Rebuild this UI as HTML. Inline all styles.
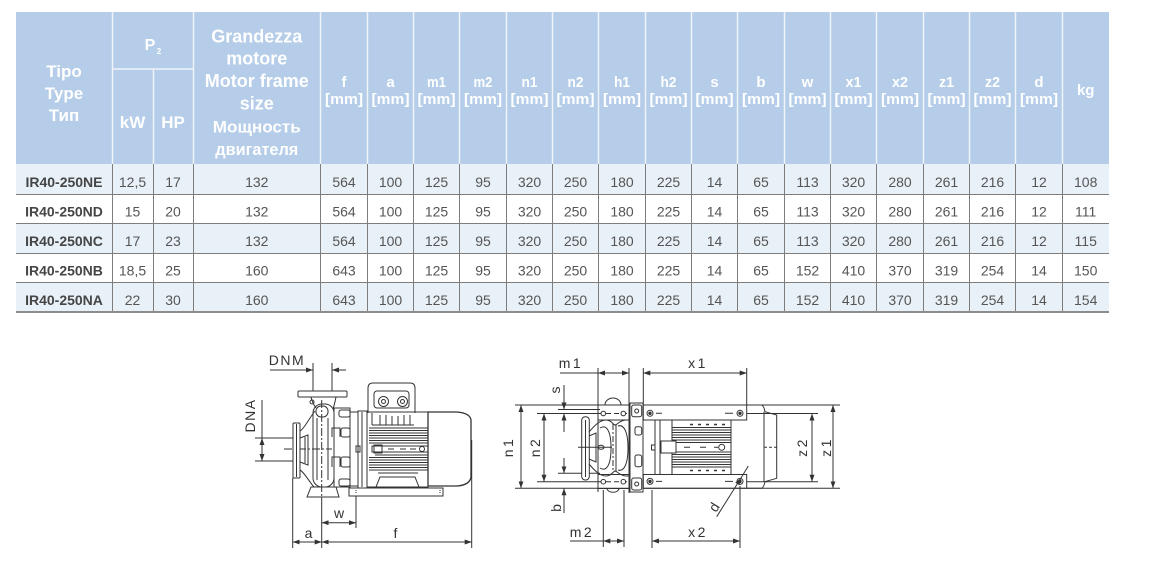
<!DOCTYPE html>
<html><head><meta charset="utf-8"><style>
html,body{margin:0;padding:0;background:#fff;width:1154px;height:567px;overflow:hidden}
svg{display:block}
.h{font-family:"Liberation Sans",sans-serif;font-weight:bold;fill:#fff;text-anchor:middle}
.c{font-family:"Liberation Sans",sans-serif;font-size:14px;fill:#555;text-anchor:middle}
.n{font-family:"Liberation Sans",sans-serif;font-size:14px;font-weight:bold;fill:#454545;text-anchor:middle}
.d{font-family:"Liberation Sans",sans-serif;font-size:14px;fill:#333;text-anchor:middle;stroke:none}
</style></head><body>
<svg width="1154" height="567" viewBox="0 0 1154 567" xmlns="http://www.w3.org/2000/svg">
<defs>
<marker id="ah" viewBox="0 0 7 5" refX="7" refY="2.5" markerWidth="7" markerHeight="5" markerUnits="userSpaceOnUse" orient="auto-start-reverse"><path d="M0,0 L7,2.5 L0,5 z" fill="#333"/></marker>
</defs>
<rect width="1154" height="567" fill="#fff"/>

<!-- TABLE BACKGROUNDS -->
<rect x="16" y="12" width="1093" height="152" fill="#b5cde8"/>
<rect x="16" y="164" width="1093" height="30.5" fill="#e9f1f8"/>
<rect x="16" y="223.5" width="1093" height="30" fill="#e9f1f8"/>
<rect x="16" y="282.5" width="1093" height="29.5" fill="#e9f1f8"/>

<!-- header separators -->
<g stroke="#eef4fa" stroke-width="1.5">
<line x1="112.5" y1="12" x2="112.5" y2="164"/><line x1="193.5" y1="12" x2="193.5" y2="164"/>
<line x1="320.5" y1="12" x2="320.5" y2="164"/><line x1="367.5" y1="12" x2="367.5" y2="164"/>
<line x1="413.5" y1="12" x2="413.5" y2="164"/><line x1="459.5" y1="12" x2="459.5" y2="164"/>
<line x1="506.5" y1="12" x2="506.5" y2="164"/><line x1="552.5" y1="12" x2="552.5" y2="164"/>
<line x1="598.5" y1="12" x2="598.5" y2="164"/><line x1="645.5" y1="12" x2="645.5" y2="164"/>
<line x1="691.5" y1="12" x2="691.5" y2="164"/><line x1="737.5" y1="12" x2="737.5" y2="164"/>
<line x1="784.5" y1="12" x2="784.5" y2="164"/><line x1="830.5" y1="12" x2="830.5" y2="164"/>
<line x1="876.5" y1="12" x2="876.5" y2="164"/><line x1="923.5" y1="12" x2="923.5" y2="164"/>
<line x1="969.5" y1="12" x2="969.5" y2="164"/><line x1="1015.5" y1="12" x2="1015.5" y2="164"/>
<line x1="1062.5" y1="12" x2="1062.5" y2="164"/>
<line x1="153.5" y1="69" x2="153.5" y2="164"/>
<line x1="112" y1="69" x2="193" y2="69"/>
</g>

<!-- body grid -->
<g stroke="#7d7d7d" stroke-width="1">
<line x1="112.5" y1="164" x2="112.5" y2="312"/><line x1="153.5" y1="164" x2="153.5" y2="312"/>
<line x1="193.5" y1="164" x2="193.5" y2="312"/>
<line x1="320.5" y1="164" x2="320.5" y2="312"/><line x1="367.5" y1="164" x2="367.5" y2="312"/>
<line x1="413.5" y1="164" x2="413.5" y2="312"/><line x1="459.5" y1="164" x2="459.5" y2="312"/>
<line x1="506.5" y1="164" x2="506.5" y2="312"/><line x1="552.5" y1="164" x2="552.5" y2="312"/>
<line x1="598.5" y1="164" x2="598.5" y2="312"/><line x1="645.5" y1="164" x2="645.5" y2="312"/>
<line x1="691.5" y1="164" x2="691.5" y2="312"/><line x1="737.5" y1="164" x2="737.5" y2="312"/>
<line x1="784.5" y1="164" x2="784.5" y2="312"/><line x1="830.5" y1="164" x2="830.5" y2="312"/>
<line x1="876.5" y1="164" x2="876.5" y2="312"/><line x1="923.5" y1="164" x2="923.5" y2="312"/>
<line x1="969.5" y1="164" x2="969.5" y2="312"/><line x1="1015.5" y1="164" x2="1015.5" y2="312"/>
<line x1="1062.5" y1="164" x2="1062.5" y2="312"/>
<line x1="16" y1="194.5" x2="1109" y2="194.5"/>
<line x1="16" y1="223.5" x2="1109" y2="223.5"/>
<line x1="16" y1="253.5" x2="1109" y2="253.5"/>
<line x1="16" y1="282.5" x2="1109" y2="282.5"/>
</g>
<line x1="16" y1="312" x2="1109" y2="312" stroke="#8c8c8c" stroke-width="2"/>

<!-- HEADER TEXT -->
<text class="h" x="64" y="77" font-size="17">Tipo</text>
<text class="h" x="64" y="99" font-size="17">Type</text>
<text class="h" x="64" y="121" font-size="17">Тип</text>
<text class="h" x="150" y="50" font-size="16">P</text>
<text class="h" x="159" y="54" font-size="8">2</text>
<text class="h" x="132.5" y="128" font-size="17">kW</text>
<text class="h" x="173" y="128" font-size="17">HP</text>
<text class="h" x="256.8" y="42.5" font-size="18">Grandezza</text>
<text class="h" x="256.8" y="64.5" font-size="18">motore</text>
<text class="h" x="256.8" y="87" font-size="18" textLength="104" lengthAdjust="spacingAndGlyphs">Motor frame</text>
<text class="h" x="256.8" y="109.5" font-size="18">size</text>
<text class="h" x="256.8" y="132.5" font-size="17" textLength="88" lengthAdjust="spacingAndGlyphs">Мощность</text>
<text class="h" x="256.8" y="155" font-size="17" textLength="83" lengthAdjust="spacingAndGlyphs">двигателя</text>

<g class="h" font-size="15">
<text class="h" x="344" y="87">f</text>
<text class="h" x="390.5" y="87">a</text>
<text class="h" x="436.5" y="87" textLength="19" lengthAdjust="spacingAndGlyphs">m1</text>
<text class="h" x="483" y="87" textLength="19" lengthAdjust="spacingAndGlyphs">m2</text>
<text class="h" x="529.5" y="87" textLength="16" lengthAdjust="spacingAndGlyphs">n1</text>
<text class="h" x="575.5" y="87" textLength="16" lengthAdjust="spacingAndGlyphs">n2</text>
<text class="h" x="622" y="87" textLength="16" lengthAdjust="spacingAndGlyphs">h1</text>
<text class="h" x="668.5" y="87" textLength="16" lengthAdjust="spacingAndGlyphs">h2</text>
<text class="h" x="714.5" y="87">s</text>
<text class="h" x="761" y="87">b</text>
<text class="h" x="807.5" y="87">w</text>
<text class="h" x="853.5" y="87" textLength="16" lengthAdjust="spacingAndGlyphs">x1</text>
<text class="h" x="900" y="87" textLength="16" lengthAdjust="spacingAndGlyphs">x2</text>
<text class="h" x="946.5" y="87" textLength="15" lengthAdjust="spacingAndGlyphs">z1</text>
<text class="h" x="992.5" y="87" textLength="15" lengthAdjust="spacingAndGlyphs">z2</text>
<text class="h" x="1039" y="87">d</text>
<text class="h" x="1085.7" y="95">kg</text>
</g>
<g font-size="15">
<text class="h" x="344" y="104" font-size="15" textLength="38" lengthAdjust="spacingAndGlyphs">[mm]</text>
<text class="h" x="390.5" y="104" font-size="15" textLength="38" lengthAdjust="spacingAndGlyphs">[mm]</text>
<text class="h" x="436.5" y="104" font-size="15" textLength="38" lengthAdjust="spacingAndGlyphs">[mm]</text>
<text class="h" x="483" y="104" font-size="15" textLength="38" lengthAdjust="spacingAndGlyphs">[mm]</text>
<text class="h" x="529.5" y="104" font-size="15" textLength="38" lengthAdjust="spacingAndGlyphs">[mm]</text>
<text class="h" x="575.5" y="104" font-size="15" textLength="38" lengthAdjust="spacingAndGlyphs">[mm]</text>
<text class="h" x="622" y="104" font-size="15" textLength="38" lengthAdjust="spacingAndGlyphs">[mm]</text>
<text class="h" x="668.5" y="104" font-size="15" textLength="38" lengthAdjust="spacingAndGlyphs">[mm]</text>
<text class="h" x="714.5" y="104" font-size="15" textLength="38" lengthAdjust="spacingAndGlyphs">[mm]</text>
<text class="h" x="761" y="104" font-size="15" textLength="38" lengthAdjust="spacingAndGlyphs">[mm]</text>
<text class="h" x="807.5" y="104" font-size="15" textLength="38" lengthAdjust="spacingAndGlyphs">[mm]</text>
<text class="h" x="853.5" y="104" font-size="15" textLength="38" lengthAdjust="spacingAndGlyphs">[mm]</text>
<text class="h" x="900" y="104" font-size="15" textLength="38" lengthAdjust="spacingAndGlyphs">[mm]</text>
<text class="h" x="946.5" y="104" font-size="15" textLength="38" lengthAdjust="spacingAndGlyphs">[mm]</text>
<text class="h" x="992.5" y="104" font-size="15" textLength="38" lengthAdjust="spacingAndGlyphs">[mm]</text>
<text class="h" x="1039" y="104" font-size="15" textLength="38" lengthAdjust="spacingAndGlyphs">[mm]</text>
</g>

<!-- ROW 1 -->
<text class="n" x="64" y="187">IR40-250NE</text>
<text class="c" x="132.5" y="187">12,5</text><text class="c" x="173" y="187">17</text><text class="c" x="256.8" y="187">132</text>
<text class="c" x="344" y="187">564</text><text class="c" x="390.5" y="187">100</text><text class="c" x="436.5" y="187">125</text><text class="c" x="483" y="187">95</text>
<text class="c" x="529.5" y="187">320</text><text class="c" x="575.5" y="187">250</text><text class="c" x="622" y="187">180</text><text class="c" x="668.5" y="187">225</text>
<text class="c" x="714.5" y="187">14</text><text class="c" x="761" y="187">65</text><text class="c" x="807.5" y="187">113</text><text class="c" x="853.5" y="187">320</text>
<text class="c" x="900" y="187">280</text><text class="c" x="946.5" y="187">261</text><text class="c" x="992.5" y="187">216</text><text class="c" x="1039" y="187">12</text><text class="c" x="1085.7" y="187">108</text>
<!-- ROW 2 -->
<text class="n" x="64" y="216.5">IR40-250ND</text>
<text class="c" x="132.5" y="216.5">15</text><text class="c" x="173" y="216.5">20</text><text class="c" x="256.8" y="216.5">132</text>
<text class="c" x="344" y="216.5">564</text><text class="c" x="390.5" y="216.5">100</text><text class="c" x="436.5" y="216.5">125</text><text class="c" x="483" y="216.5">95</text>
<text class="c" x="529.5" y="216.5">320</text><text class="c" x="575.5" y="216.5">250</text><text class="c" x="622" y="216.5">180</text><text class="c" x="668.5" y="216.5">225</text>
<text class="c" x="714.5" y="216.5">14</text><text class="c" x="761" y="216.5">65</text><text class="c" x="807.5" y="216.5">113</text><text class="c" x="853.5" y="216.5">320</text>
<text class="c" x="900" y="216.5">280</text><text class="c" x="946.5" y="216.5">261</text><text class="c" x="992.5" y="216.5">216</text><text class="c" x="1039" y="216.5">12</text><text class="c" x="1085.7" y="216.5">111</text>
<!-- ROW 3 -->
<text class="n" x="64" y="246">IR40-250NC</text>
<text class="c" x="132.5" y="246">17</text><text class="c" x="173" y="246">23</text><text class="c" x="256.8" y="246">132</text>
<text class="c" x="344" y="246">564</text><text class="c" x="390.5" y="246">100</text><text class="c" x="436.5" y="246">125</text><text class="c" x="483" y="246">95</text>
<text class="c" x="529.5" y="246">320</text><text class="c" x="575.5" y="246">250</text><text class="c" x="622" y="246">180</text><text class="c" x="668.5" y="246">225</text>
<text class="c" x="714.5" y="246">14</text><text class="c" x="761" y="246">65</text><text class="c" x="807.5" y="246">113</text><text class="c" x="853.5" y="246">320</text>
<text class="c" x="900" y="246">280</text><text class="c" x="946.5" y="246">261</text><text class="c" x="992.5" y="246">216</text><text class="c" x="1039" y="246">12</text><text class="c" x="1085.7" y="246">115</text>
<!-- ROW 4 -->
<text class="n" x="64" y="275.5">IR40-250NB</text>
<text class="c" x="132.5" y="275.5">18,5</text><text class="c" x="173" y="275.5">25</text><text class="c" x="256.8" y="275.5">160</text>
<text class="c" x="344" y="275.5">643</text><text class="c" x="390.5" y="275.5">100</text><text class="c" x="436.5" y="275.5">125</text><text class="c" x="483" y="275.5">95</text>
<text class="c" x="529.5" y="275.5">320</text><text class="c" x="575.5" y="275.5">250</text><text class="c" x="622" y="275.5">180</text><text class="c" x="668.5" y="275.5">225</text>
<text class="c" x="714.5" y="275.5">14</text><text class="c" x="761" y="275.5">65</text><text class="c" x="807.5" y="275.5">152</text><text class="c" x="853.5" y="275.5">410</text>
<text class="c" x="900" y="275.5">370</text><text class="c" x="946.5" y="275.5">319</text><text class="c" x="992.5" y="275.5">254</text><text class="c" x="1039" y="275.5">14</text><text class="c" x="1085.7" y="275.5">150</text>
<!-- ROW 5 -->
<text class="n" x="64" y="305">IR40-250NA</text>
<text class="c" x="132.5" y="305">22</text><text class="c" x="173" y="305">30</text><text class="c" x="256.8" y="305">160</text>
<text class="c" x="344" y="305">643</text><text class="c" x="390.5" y="305">100</text><text class="c" x="436.5" y="305">125</text><text class="c" x="483" y="305">95</text>
<text class="c" x="529.5" y="305">320</text><text class="c" x="575.5" y="305">250</text><text class="c" x="622" y="305">180</text><text class="c" x="668.5" y="305">225</text>
<text class="c" x="714.5" y="305">14</text><text class="c" x="761" y="305">65</text><text class="c" x="807.5" y="305">152</text><text class="c" x="853.5" y="305">410</text>
<text class="c" x="900" y="305">370</text><text class="c" x="946.5" y="305">319</text><text class="c" x="992.5" y="305">254</text><text class="c" x="1039" y="305">14</text><text class="c" x="1085.7" y="305">154</text>

<!-- ================= LEFT DRAWING (side view) ================= -->
<g fill="none" stroke="#333" stroke-width="1">
<!-- DNM -->
<line x1="270" y1="370" x2="313" y2="370" marker-end="url(#ah)"/>
<line x1="346" y1="370" x2="332" y2="370" marker-end="url(#ah)"/>
<line x1="313" y1="363" x2="313" y2="391"/>
<line x1="332" y1="363" x2="332" y2="391"/>
<!-- DNA -->
<line x1="262" y1="400" x2="262" y2="438"/>
<line x1="262" y1="438" x2="262" y2="461" marker-start="url(#ah)" marker-end="url(#ah)"/>
<line x1="255" y1="438" x2="293" y2="438"/>
<line x1="255" y1="461" x2="293" y2="461"/>
<line x1="284" y1="449" x2="332" y2="449" stroke-dasharray="8 2 2 2"/>
<!-- pump centerline -->
<line x1="321.7" y1="400" x2="321.7" y2="497" stroke-dasharray="8 2 2 2"/>
<line x1="321.7" y1="497" x2="321.7" y2="548"/>
<!-- dims bottom -->
<line x1="292.7" y1="478" x2="292.7" y2="548"/>
<line x1="471.7" y1="440" x2="471.7" y2="548"/>
<line x1="356" y1="496" x2="356" y2="528"/>
<line x1="292.7" y1="542" x2="321.7" y2="542" marker-start="url(#ah)" marker-end="url(#ah)"/>
<line x1="321.7" y1="542" x2="471.7" y2="542" marker-start="url(#ah)" marker-end="url(#ah)"/>
<line x1="321.7" y1="522.7" x2="356" y2="522.7" marker-start="url(#ah)" marker-end="url(#ah)"/>

<!-- discharge flange -->
<rect x="298" y="391" width="49" height="6" rx="1" fill="#fff"/>
<path d="M311,397 C312,402 314,405 316,408"/>
<path d="M336,397 C335,402 334,406 333,409"/>
<circle cx="312" cy="402" r="2"/>
<!-- suction flange -->
<rect x="293" y="423" width="7" height="55" rx="1" fill="#fff"/>
<line x1="296.5" y1="424" x2="296.5" y2="477"/>
<path d="M300,431 C304,429 308,420 315,411"/>
<path d="M300,470 C304,472 308,480 314,487"/>
<path d="M300,438 L308,435 L308,465 L300,462"/>
<line x1="305" y1="437" x2="305" y2="463"/>
<!-- volute -->
<rect x="313" y="404" width="21" height="83" rx="9"/>
<rect x="316" y="406" width="12" height="11" rx="5"/>
<line x1="317" y1="418" x2="317" y2="480"/>
<line x1="328" y1="418" x2="328" y2="480"/>
<!-- foot -->
<path d="M311,487 L336,487 L339,497 L307,497 Z"/>
<!-- lantern -->
<rect x="334" y="408" width="16" height="79"/>
<rect x="339" y="410" width="11" height="7" rx="2" fill="#fff"/>
<rect x="341" y="428" width="9" height="9" rx="2" fill="#fff"/>
<rect x="341" y="457" width="9" height="10" rx="2" fill="#fff"/>
<rect x="339" y="479" width="11" height="7" rx="2" fill="#fff"/>
<path d="M332,437 L332,428 L340,428 L340,437"/>
<path d="M332,467 L332,457 L340,457 L340,467"/>
<!-- coupling -->
<line x1="350" y1="412" x2="358" y2="412"/>
<line x1="350" y1="486" x2="358" y2="486"/>
<rect x="356" y="446" width="4" height="6"/>
<!-- motor flange -->
<rect x="358" y="411" width="9" height="77"/>
<line x1="362" y1="412" x2="362" y2="487"/>
<!-- terminal box -->
<path d="M368,413 L368,388 Q368,383 373,383 L410,383 Q415,383 415,388 L415,413"/>
<rect x="374" y="391" width="35" height="17" rx="3"/>
<circle cx="383.5" cy="401.5" r="5"/><circle cx="383.5" cy="401.5" r="2"/>
<circle cx="402.5" cy="401.5" r="5"/><circle cx="402.5" cy="401.5" r="2"/>
<!-- motor body -->
<rect x="367" y="412" width="61" height="75"/>
<path d="M372,413 L372,425 M380,415 L380,425 M386,415 L386,425 M392,416 L392,425 M398,416 L398,425 M404,415 L404,425 M410,415 L410,425 M372,425 L414,425"/>
<path d="M369,428 H428 M369,430.5 H428 M369,433 H428 M369,435.5 H428 M369,438 H428 M369,440.5 H428 M369,443 H428 M375,455 H428 M369,457.5 H428 M369,460 H428 M369,462.5 H428 M369,465 H428 M369,467.5 H428 M369,470 H428"/>
<rect x="372" y="446" width="56" height="6"/>
<rect x="374" y="445" width="8" height="8"/>
<circle cx="422" cy="449" r="2.5"/>
<path d="M388,449 h6 M400,449 h6 M410,449 h6"/>
<path d="M378,473 h40 M380,477 L415,477 L419,487 L376,487 Z"/>
<!-- fan cover -->
<path d="M428,412 L457,412 Q470,413 471,420 L471,477 Q470,485 457,486 L428,486 Z" stroke-width="1.3"/>
<!-- base -->
<rect x="349" y="488" width="94" height="8"/>
<line x1="356" y1="490" x2="356" y2="494" stroke-dasharray="1 1"/>
<line x1="440" y1="490" x2="440" y2="494" stroke-dasharray="1 1"/>
</g>
<text class="d" x="287" y="365" font-size="12.5" letter-spacing="1.5">DNM</text>
<text class="d" transform="translate(250.5,415.5) rotate(-90)" y="4.5" font-size="12.5" letter-spacing="1.5">DNA</text>
<text class="d" x="308.5" y="538" font-size="16">a</text>
<text class="d" x="395.5" y="538" font-size="16">f</text>
<text class="d" x="339" y="518" font-size="16">w</text>

<!-- ================= RIGHT DRAWING (top view) ================= -->
<g fill="none" stroke="#333" stroke-width="1">
<!-- ext lines horizontal -->
<line x1="515" y1="405" x2="840" y2="405"/>
<line x1="515" y1="488.3" x2="840" y2="488.3"/>
<line x1="537" y1="413.5" x2="598" y2="413.5"/>
<line x1="598" y1="413.5" x2="630" y2="413.5" stroke-dasharray="5 3"/>
<line x1="747" y1="413.5" x2="818" y2="413.5"/>
<line x1="537" y1="481.7" x2="598" y2="481.7"/>
<line x1="598" y1="481.7" x2="630" y2="481.7" stroke-dasharray="5 3"/>
<line x1="747" y1="481.7" x2="818" y2="481.7"/>
<line x1="558" y1="409.5" x2="600" y2="409.5"/>
<line x1="558" y1="473.3" x2="600" y2="473.3"/>
<!-- vertical dims -->
<line x1="521" y1="405" x2="521" y2="488.3" marker-start="url(#ah)" marker-end="url(#ah)"/>
<line x1="544" y1="413.5" x2="544" y2="481.7" marker-start="url(#ah)" marker-end="url(#ah)"/>
<line x1="812" y1="413.5" x2="812" y2="481.7" marker-start="url(#ah)" marker-end="url(#ah)"/>
<line x1="833" y1="405" x2="833" y2="488.3" marker-start="url(#ah)" marker-end="url(#ah)"/>
<line x1="564" y1="385" x2="564" y2="409.5" marker-end="url(#ah)"/>
<line x1="564" y1="432" x2="564" y2="413.5" marker-end="url(#ah)"/>
<line x1="564" y1="458" x2="564" y2="473.3" marker-end="url(#ah)"/>
<line x1="564" y1="513" x2="564" y2="488.3" marker-end="url(#ah)"/>
<!-- top dims -->
<line x1="598" y1="368" x2="598" y2="492"/>
<line x1="629" y1="368" x2="629" y2="493"/>
<line x1="560" y1="373" x2="598" y2="373"/>
<line x1="598" y1="373" x2="629" y2="373" marker-start="url(#ah)" marker-end="url(#ah)"/>
<line x1="643.3" y1="368" x2="643.3" y2="405"/>
<line x1="746.7" y1="368" x2="746.7" y2="405"/>
<line x1="643.3" y1="373" x2="746.7" y2="373" marker-start="url(#ah)" marker-end="url(#ah)"/>
<!-- bottom dims -->
<line x1="603.3" y1="490" x2="603.3" y2="547"/>
<line x1="624" y1="490" x2="624" y2="547"/>
<line x1="570" y1="541" x2="603.3" y2="541"/>
<line x1="603.3" y1="541" x2="624" y2="541" marker-start="url(#ah)" marker-end="url(#ah)"/>
<line x1="652" y1="490" x2="652" y2="548"/>
<line x1="740" y1="486" x2="740" y2="548"/>
<line x1="652" y1="541" x2="740" y2="541" marker-start="url(#ah)" marker-end="url(#ah)"/>
<!-- d leader -->
<line x1="716.7" y1="516.7" x2="741" y2="478" marker-end="url(#ah)"/>
<line x1="741" y1="478" x2="748.3" y2="466"/>

<!-- pump: suction flange -->
<rect x="581.7" y="416.7" width="7.6" height="63.3" rx="3.5" fill="#fff"/>
<line x1="585.5" y1="420" x2="585.5" y2="477"/>
<line x1="578" y1="447.3" x2="612" y2="447.3"/>
<ellipse cx="601" cy="447.3" rx="3" ry="2"/>
<!-- casing -->
<path d="M589,432 C595,425 600,420 606,420 C612,420 613,425 615,425 C617,425 620,420 626,420 L630,420"/>
<path d="M589,464 C595,471 600,476 606,476 C612,476 613,471 615,471 C617,471 620,476 626,476 L630,476"/>
<path d="M589,436 L596,433 L596,462 L589,459"/>
<path d="M600,428 C606,424 611,430 611,448 C611,466 606,472 600,468"/>
<path d="M618,426 C624,424 628,432 628,448 C628,464 624,472 618,470"/>
<line x1="613" y1="424" x2="613" y2="472" stroke-dasharray="6 2 2 2"/>
<line x1="616" y1="424" x2="616" y2="472"/>
<!-- pump feet -->
<path d="M605,405 A8,7 0 0 1 621,405"/>
<path d="M607,488.3 A6,4 0 0 0 619,488.3"/>
<rect x="598" y="405" width="31" height="15"/>
<rect x="598" y="474.5" width="31" height="14"/>
<circle cx="603.3" cy="413.5" r="2.3" fill="#fff"/>
<circle cx="623.3" cy="413.5" r="2.3" fill="#fff"/>
<circle cx="603.3" cy="481.7" r="2.3" fill="#fff"/>
<circle cx="623.3" cy="481.7" r="2.3" fill="#fff"/>
<!-- bracket -->
<rect x="630" y="403" width="13" height="89" fill="#fff"/>
<rect x="631.7" y="405" width="10" height="11.7" rx="2"/>
<rect x="635" y="426.7" width="6.7" height="8.3" rx="2"/>
<rect x="635" y="455" width="6.7" height="11.7" rx="2"/>
<rect x="631.7" y="478" width="10" height="12" rx="2"/>
<circle cx="636.7" cy="411" r="2"/>
<circle cx="636.7" cy="484" r="2"/>
<!-- motor feet -->
<rect x="643.3" y="405" width="103.4" height="15"/>
<rect x="643.3" y="474.5" width="103.4" height="13.8"/>
<circle cx="650" cy="413.3" r="3"/><circle cx="650" cy="413.3" r="1.2" fill="#333"/>
<circle cx="740" cy="413.3" r="3"/><circle cx="740" cy="413.3" r="1.2" fill="#333"/>
<circle cx="650" cy="481.4" r="3"/><circle cx="650" cy="481.4" r="1.2" fill="#333"/>
<circle cx="740" cy="481.4" r="3"/><circle cx="740" cy="481.4" r="1.2" fill="#333"/>
<path d="M656,413.3 h6 M725,413.3 h8 M656,481.4 h6 M725,481.4 h8"/>
<!-- motor body -->
<line x1="655" y1="420" x2="655" y2="474.5"/>
<rect x="651.5" y="445" width="3.5" height="5"/>
<rect x="660" y="420" width="71" height="54.5"/>
<line x1="672" y1="420" x2="672" y2="474.5"/>
<path d="M672,427.5 H731 M672,430 H731 M672,432.5 H731 M672,435 H731 M672,437.5 H731 M672,440 H731 M672,442.5 H731 M672,452 H731 M672,454.5 H731 M672,457 H731 M672,459.5 H731 M672,462 H731 M672,464.5 H731 M672,467 H731"/>
<rect x="661" y="441" width="15" height="12" fill="#fff"/>
<path d="M690,424.5 h3 M698,424.5 h3 M706,424.5 h3 M714,424.5 h3 M722,424.5 h3 M690,470.5 h3 M698,470.5 h3 M706,470.5 h3 M714,470.5 h3 M722,470.5 h3" stroke-width="1.6"/>
<path d="M684,447.3 h6 M700,447.3 h6 M714,447.3 h4"/>
<circle cx="721.7" cy="447.3" r="3"/>
<!-- fan cover -->
<path d="M746.7,405 L761.7,405 Q764,406 765,411.7 L776.7,415 L776.7,478.3 L765,481.7 Q764,487 761.7,488.3 L746.7,488.3"/>
<line x1="764" y1="411.7" x2="764" y2="481.7"/>
<line x1="764" y1="447.3" x2="777" y2="447.3" stroke-dasharray="3 2"/>
</g>
<text class="d" x="571" y="368" font-size="14" letter-spacing="2.5">m1</text>
<text class="d" x="698" y="368" font-size="14" letter-spacing="2.5">x1</text>
<text class="d" x="582" y="537" font-size="14" letter-spacing="2.5">m2</text>
<text class="d" x="698" y="537" font-size="14" letter-spacing="2.5">x2</text>
<text class="d" transform="translate(508,447) rotate(-90)" y="5" font-size="14" letter-spacing="2.5">n1</text>
<text class="d" transform="translate(535,447) rotate(-90)" y="5" font-size="14" letter-spacing="2.5">n2</text>
<text class="d" transform="translate(802,447) rotate(-90)" y="5" font-size="14" letter-spacing="2.5">z2</text>
<text class="d" transform="translate(826,447) rotate(-90)" y="5" font-size="14" letter-spacing="2.5">z1</text>
<text class="d" transform="translate(556,390) rotate(-90)" y="4" font-size="14">s</text>
<text class="d" transform="translate(556,508) rotate(-90)" y="5" font-size="14">b</text>
<text class="d" transform="translate(714,507) rotate(-58)" y="5" font-size="14">d</text>
</svg>
</body></html>
